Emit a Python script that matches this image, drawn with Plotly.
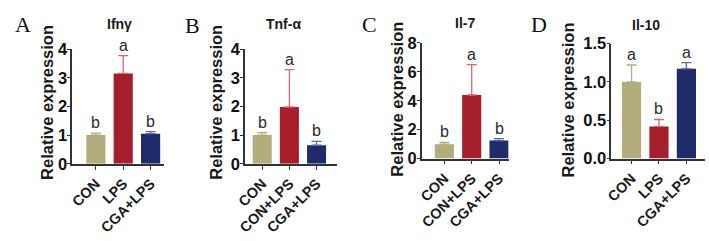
import plotly.graph_objects as go

# ---- data ----
titles = ["Ifnγ", "Tnf-α", "Il-7", "Il-10"]
panel_letters = ["A", "B", "C", "D"]
cats_A = ["CON", "LPS", "CGA+LPS"]
cats_B = ["CON", "CON+LPS", "CGA+LPS"]
cats_C = ["CON", "CON+LPS", "CGA+LPS"]
cats_D = ["CON", "LPS", "CGA+LPS"]
vals_A = [1.00, 3.15, 1.05]
err_A = [0.07, 0.62, 0.07]
vals_B = [1.00, 1.98, 0.65]
err_B = [0.09, 1.30, 0.13]
vals_C = [1.00, 4.40, 1.25]
err_C = [0.12, 2.10, 0.14]
vals_D = [1.00, 0.42, 1.17]
err_D = [0.22, 0.09, 0.08]
sig_A = ["b", "a", "b"]
sig_B = ["b", "a", "b"]
sig_C = ["b", "a", "b"]
sig_D = ["a", "b", "a"]
yticks_A = [0, 1, 2, 3, 4]
yticks_B = [0, 1, 2, 3, 4]
yticks_C = [0, 2, 4, 6, 8]
yticks_D = [0.0, 0.5, 1.0, 1.5]
ytick_text_D = ["0.0", "0.5", "1.0", "1.5"]

# ---- style ----
W, H = 709, 241
bar_colors = ["#B3AC7C", "#A51E2C", "#1F2C6C"]
err_colors = ["#B3AC7C", "#D66C72", "#5A68A8"]
axis_color = "#333333"
FONT = "Liberation Sans"

# pixel layout per panel: (x_left, x_right, y_zero, y_top, x_range)
layouts = [
    (64, 157, 167.3, 43.3, [-0.865, 2.49]),
    (239, 332, 167.3, 43.3, [-0.636, 2.745]),
    (418, 506, 161.7, 36.7, [-0.83, 2.35]),
    (610, 705, 161.7, 37.3, [-0.74, 2.68]),
]
title_pos = [(112, 16), (278, 16), (462, 15), (645, 17)]
letter_pos = [(14, 17), (186, 18), (365, 17), (537, 17)]
ytitle_pos = [(39, 101), (210, 101), (393, 98), (566, 98)]

panels = [
    (cats_A, vals_A, err_A, sig_A, yticks_A, [str(t) for t in yticks_A]),
    (cats_B, vals_B, err_B, sig_B, yticks_B, [str(t) for t in yticks_B]),
    (cats_C, vals_C, err_C, sig_C, yticks_C, [str(t) for t in yticks_C]),
    (cats_D, vals_D, err_D, sig_D, yticks_D, ytick_text_D),
]

fig = go.Figure()
annotations = []
layout_axes = {}

for p, (cats, vals, errs, sigs, yt, ytt) in enumerate(panels):
    xl, xr, y0, ytop, xrange = layouts[p]
    sfx = "" if p == 0 else str(p + 1)
    xa, ya = "x" + sfx, "y" + sfx
    for i in range(3):
        fig.add_trace(go.Bar(
            x=[i], y=[vals[i]], xaxis=xa, yaxis=ya, width=0.7,
            marker=dict(color=bar_colors[i], line=dict(width=0)),
            error_y=dict(type="data", symmetric=False, array=[errs[i]],
                         arrayminus=[0], color=err_colors[i],
                         thickness=1.3, width=5),
            showlegend=False, hoverinfo="skip"))
        annotations.append(dict(
            x=i, y=vals[i] + errs[i], xref=xa, yref=ya, text=sigs[i],
            showarrow=False, yanchor="bottom", yshift=0,
            font=dict(family=FONT, size=16, color="#2b2b2b")))
    layout_axes["xaxis" + sfx] = dict(
        domain=[xl / W, xr / W], range=xrange, anchor=ya,
        tickmode="array", tickvals=[0, 1, 2],
        ticktext=["<b>%s</b>" % c for c in cats],
        tickangle=-45, ticks="outside", ticklen=4, tickwidth=1.3,
        tickcolor=axis_color, showline=True, linecolor=axis_color,
        linewidth=1.5, showgrid=False, zeroline=False, fixedrange=True,
        tickfont=dict(family=FONT, size=14.5, color="#1a1a1a"))
    layout_axes["yaxis" + sfx] = dict(
        domain=[1 - y0 / H, 1 - ytop / H], range=[0, yt[-1]], anchor=xa,
        tickmode="array", tickvals=yt,
        ticktext=["<b>%s</b>" % t for t in ytt],
        ticks="outside", ticklen=3, tickwidth=1.3, tickcolor=axis_color,
        showline=True, linecolor=axis_color, linewidth=1.5,
        showgrid=False, zeroline=False, fixedrange=True,
        ticklabelstandoff=-3,
        tickfont=dict(family=FONT, size=16.5, color="#111111"))
    tx, ty = title_pos[p]
    annotations.append(dict(
        x=tx / W, y=1 - ty / H, xref="paper", yref="paper",
        text="<b>%s</b>" % titles[p],
        showarrow=False, xanchor="center", yanchor="middle",
        font=dict(family=FONT, size=14, color="#1a1a1a")))
    lx, ly = letter_pos[p]
    annotations.append(dict(
        x=lx / W, y=1 - ly / H, xref="paper", yref="paper",
        text=panel_letters[p], showarrow=False, xanchor="center",
        yanchor="middle",
        font=dict(family="Liberation Serif", size=22, color="#111111")))
    qx, qy = ytitle_pos[p]
    annotations.append(dict(
        x=qx / W, y=1 - qy / H, xref="paper", yref="paper",
        text="<b>Relative expression</b>", textangle=-90, showarrow=False,
        xanchor="center", yanchor="middle",
        font=dict(family=FONT, size=16.5, color="#1a1a1a")))

fig.update_layout(
    width=W, height=H, margin=dict(l=0, r=0, t=0, b=0),
    paper_bgcolor="white", plot_bgcolor="white",
    barmode="overlay", annotations=annotations, **layout_axes)

fig.write_html("out.html", config={"displayModeBar": False})
